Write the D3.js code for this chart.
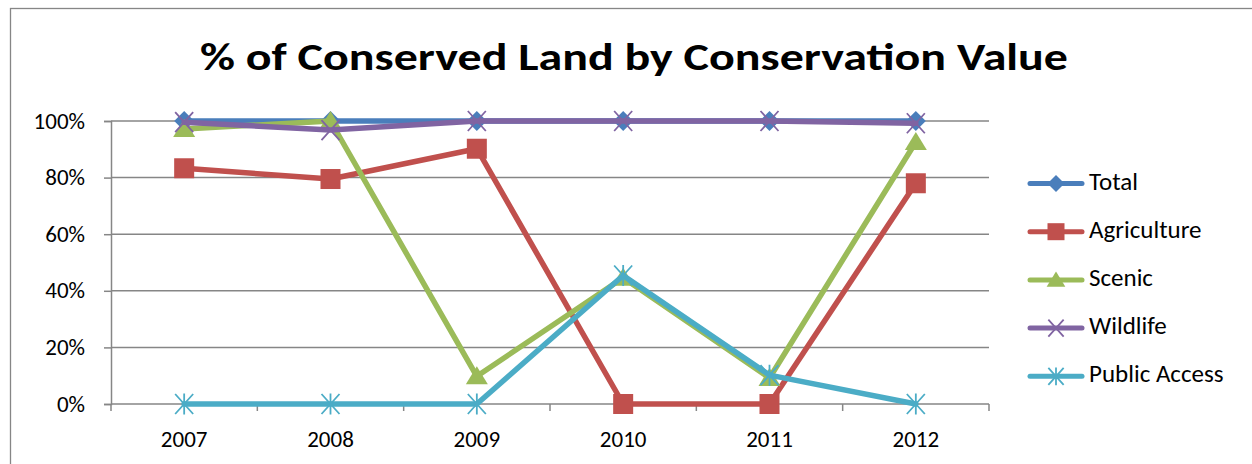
<!DOCTYPE html>
<html>
<head>
<meta charset="utf-8">
<script src="https://cdn.jsdelivr.net/npm/d3@7"></script>
<style>
  html, body { margin: 0; padding: 0; background: #fff; }
  svg { display: block; font-family: Carlito, Calibri, Lato, "Open Sans", sans-serif; }
</style>
</head>
<body>
<svg id="chart" width="1252" height="464"></svg>
<script>
// Chart data
const years = ["2007", "2008", "2009", "2010", "2011", "2012"];
const seriesNames = ["Total", "Agriculture", "Scenic", "Wildlife", "Public Access"];
const total = [100, 100, 100, 100, 100, 100];
const agriculture = [83.3, 79.5, 90.2, 0, 0, 78];
const scenic = [97.2, 100, 9.8, 44.6, 9.2, 92.6];
const wildlife = [99.6, 96.8, 100, 100, 100, 99.2];
const publicAccess = [0, 0, 0, 45.4, 10.2, 0];
const yTicks = [0, 20, 40, 60, 80, 100];

const seriesValues = [total, agriculture, scenic, wildlife, publicAccess];
const colors = ["#4A7EBB", "#C0504D", "#9BBB59", "#8064A2", "#4BACC6"];
const markers = ["diamond", "square", "triangle", "cross", "asterisk"];
const fontFamily = "Carlito, Calibri, Lato, sans-serif";

const svg = d3.select("#chart");

// outer chart frame (left and top edges fall inside the view)
svg.append("rect")
  .attr("x", 10.5).attr("y", 8.5)
  .attr("width", 1260).attr("height", 470)
  .attr("fill", "#fff").attr("stroke", "#868686").attr("stroke-width", 1.3);

const plot = { left: 111, right: 989, top: 121, bottom: 404 };

const x = d3.scaleBand().domain(years).range([plot.left, plot.right]);
const y = d3.scaleLinear().domain([0, 100]).range([plot.bottom, plot.top]);
const cx = d => x(d) + x.bandwidth() / 2;

// title
svg.append("text")
  .attr("x", 200).attr("y", 70)
  .attr("font-weight", "bold")
  .attr("font-size", 39)
  .attr("textLength", 868)
  .attr("lengthAdjust", "spacingAndGlyphs")
  .attr("fill", "#000")
  .text("% of Conserved Land by Conservation Value");

// horizontal gridlines
svg.append("g")
  .selectAll("line")
  .data(yTicks.filter(t => t > 0))
  .join("line")
  .attr("x1", plot.left).attr("x2", plot.right)
  .attr("y1", d => y(d)).attr("y2", d => y(d))
  .attr("stroke", "#868686").attr("stroke-width", 1.5);

// y axis
const yAxis = svg.append("g")
  .attr("transform", `translate(${plot.left},0)`)
  .call(d3.axisLeft(y).tickValues(yTicks).tickFormat(d => d + "%").tickSize(7).tickPadding(19));
yAxis.select(".domain").attr("stroke", "#868686").attr("stroke-width", 1.5);
yAxis.selectAll(".tick line").attr("stroke", "#868686").attr("stroke-width", 1.5);
yAxis.selectAll(".tick text")
  .attr("font-size", 23).attr("fill", "#000")
  .attr("font-family", fontFamily)
  .attr("dy", 7);

// x axis: ticks at category boundaries
const xAxisG = svg.append("g").attr("transform", `translate(0,${plot.bottom})`);
xAxisG.append("line")
  .attr("x1", plot.left).attr("x2", plot.right)
  .attr("stroke", "#868686").attr("stroke-width", 1.5);
const boundaries = years.map(d => x(d)).concat([x(years[years.length - 1]) + x.bandwidth()]);
xAxisG.selectAll("line.tick")
  .data(boundaries)
  .join("line")
  .attr("class", "tick")
  .attr("x1", d => d).attr("x2", d => d)
  .attr("y1", 0).attr("y2", 7)
  .attr("stroke", "#868686").attr("stroke-width", 1.5);
xAxisG.selectAll("text")
  .data(years)
  .join("text")
  .attr("x", d => cx(d))
  .attr("y", 43)
  .attr("text-anchor", "middle")
  .attr("font-size", 23)
  .attr("fill", "#000")
  .text(d => d);

// marker drawing; s is the half-size of the marker
function drawMarker(g, type, color, px, py, s) {
  if (type === "diamond") {
    g.append("path")
      .attr("d", `M${px},${py - s}L${px + s},${py}L${px},${py + s}L${px - s},${py}Z`)
      .attr("fill", color);
  } else if (type === "square") {
    g.append("rect")
      .attr("x", px - s).attr("y", py - s).attr("width", 2 * s).attr("height", 2 * s)
      .attr("fill", color);
  } else if (type === "triangle") {
    g.append("path")
      .attr("d", `M${px},${py - s}L${px + s * 1.1},${py + s * 0.8}L${px - s * 1.1},${py + s * 0.8}Z`)
      .attr("fill", color);
  } else if (type === "cross") {
    g.append("path")
      .attr("d", `M${px - s * 0.9},${py - s}L${px + s * 0.9},${py + s}M${px + s * 0.9},${py - s}L${px - s * 0.9},${py + s}`)
      .attr("stroke", color).attr("stroke-width", 1.8).attr("fill", "none");
  } else if (type === "asterisk") {
    g.append("path")
      .attr("d", `M${px - s * 0.9},${py - s}L${px + s * 0.9},${py + s}M${px + s * 0.9},${py - s}L${px - s * 0.9},${py + s}M${px},${py - s * 1.05}L${px},${py + s * 1.05}`)
      .attr("stroke", color).attr("stroke-width", 1.8).attr("fill", "none");
  }
}

const line = d3.line().x(d => cx(d.year)).y(d => y(d.value));

seriesValues.forEach((vals, i) => {
  const pts = years.map((yr, j) => ({ year: yr, value: vals[j] }));
  const g = svg.append("g");
  g.append("path")
    .datum(pts)
    .attr("d", line)
    .attr("fill", "none")
    .attr("stroke", colors[i])
    .attr("stroke-width", 5.5)
    .attr("stroke-linejoin", "round")
    .attr("stroke-linecap", "round");
  pts.forEach(p => drawMarker(g, markers[i], colors[i], cx(p.year), y(p.value), 10));
});

// legend
const legend = svg.append("g");
seriesNames.forEach((name, i) => {
  const ly = 183.5 + i * 48.2;
  const g = legend.append("g");
  g.append("line")
    .attr("x1", 1030).attr("x2", 1082)
    .attr("y1", ly).attr("y2", ly)
    .attr("stroke", colors[i]).attr("stroke-width", 5)
    .attr("stroke-linecap", "round");
  drawMarker(g, markers[i], colors[i], 1056, ly, 8.5);
  g.append("text")
    .attr("x", 1089).attr("y", ly + 6)
    .attr("font-size", 25)
    .attr("fill", "#000")
    .text(name);
});
</script>
</body>
</html>
